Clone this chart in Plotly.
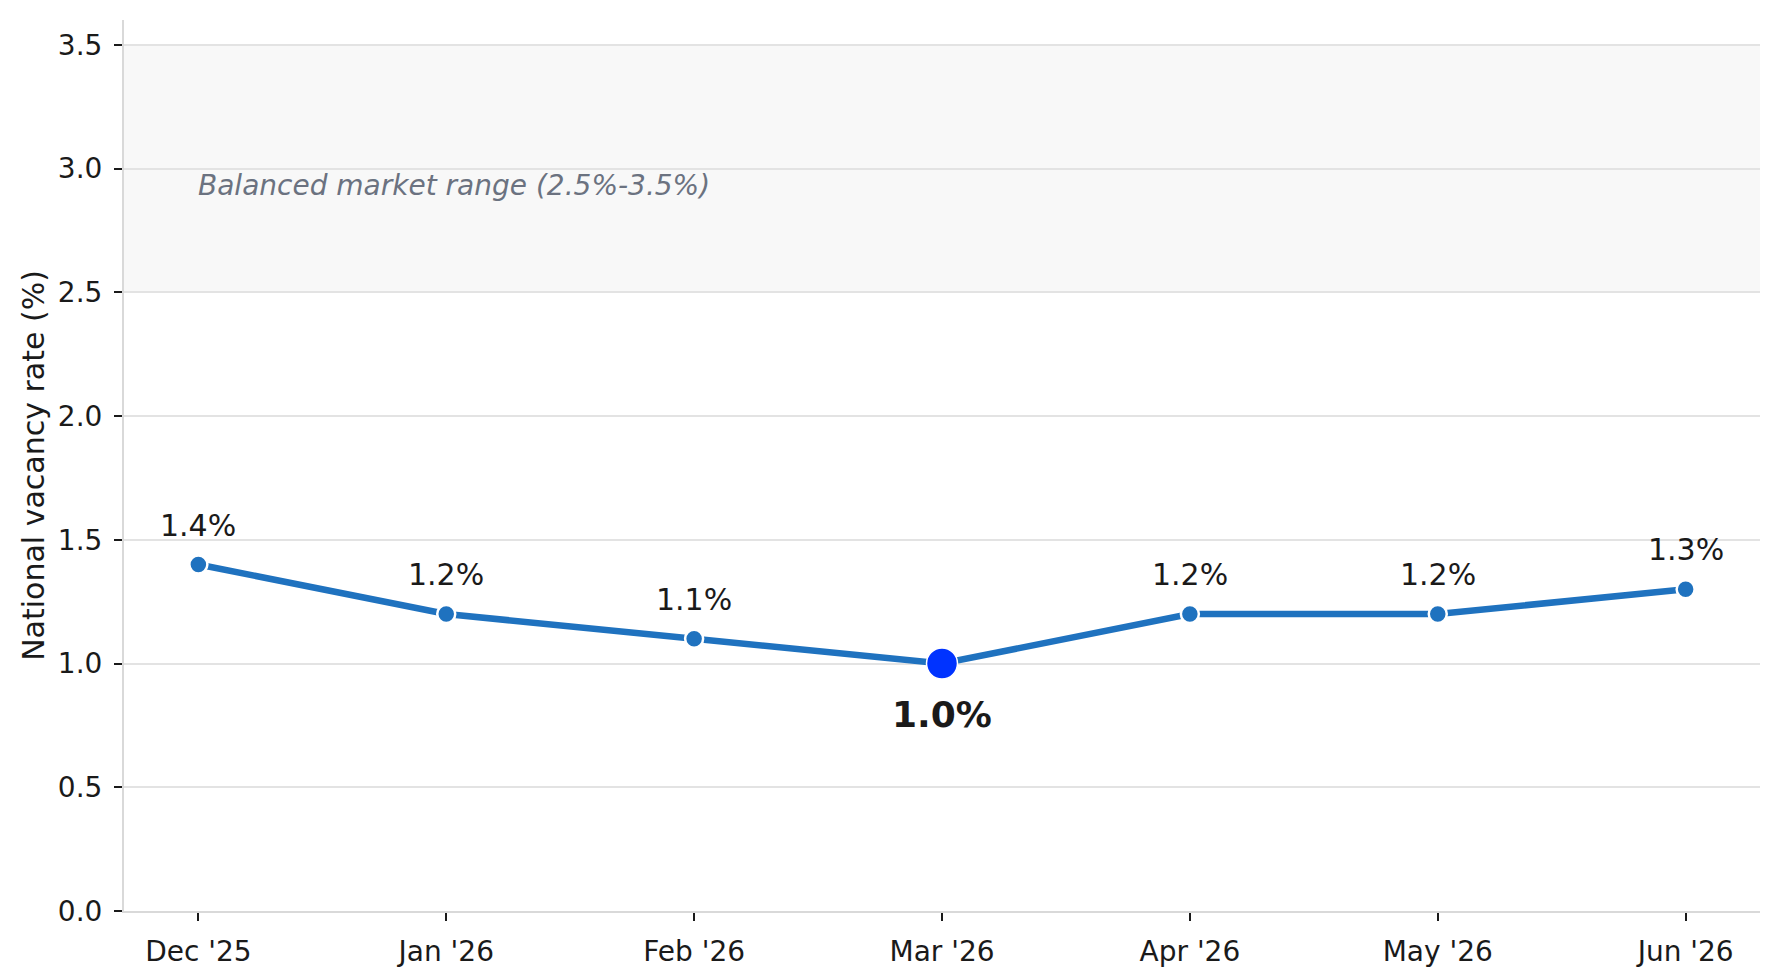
import plotly.graph_objects as go

months = ["Dec '25", "Jan '26", "Feb '26", "Mar '26", "Apr '26", "May '26", "Jun '26"]
vacancy = [1.4, 1.2, 1.1, 1.0, 1.2, 1.2, 1.3]
highlight_index = 3
band_low, band_high = 2.5, 3.5
band_label = "Balanced market range (2.5%-3.5%)"
y_ticks = [0.0, 0.5, 1.0, 1.5, 2.0, 2.5, 3.0, 3.5]

FONT = "DejaVu Sans"
LINE_COLOR = "#1f72bf"
HI_COLOR = "#0033ff"
TEXT = "#1a1a1a"

fig = go.Figure()

fig.add_shape(type="rect", xref="paper", x0=0, x1=1, yref="y", y0=band_low, y1=band_high,
              fillcolor="#f8f8f8", line=dict(width=0), layer="below")

fig.add_trace(go.Scatter(
    x=months, y=vacancy, mode="lines+markers",
    line=dict(color=LINE_COLOR, width=6.5),
    marker=dict(size=18, color=LINE_COLOR, line=dict(color="white", width=2.5)),
    hoverinfo="skip", showlegend=False))

fig.add_trace(go.Scatter(
    x=[months[highlight_index]], y=[vacancy[highlight_index]], mode="markers",
    marker=dict(size=31, color=HI_COLOR, line=dict(color="white", width=1.5)),
    hoverinfo="skip", showlegend=False))

for i, (m, v) in enumerate(zip(months, vacancy)):
    if i == highlight_index:
        fig.add_annotation(x=m, y=v, text=f"<b>{v:.1f}%</b>", showarrow=False,
                           yanchor="top", yshift=-28,
                           font=dict(family=FONT, size=36, color=TEXT))
    else:
        fig.add_annotation(x=m, y=v, text=f"{v:.1f}%", showarrow=False,
                           yanchor="bottom", yshift=20,
                           font=dict(family=FONT, size=30, color=TEXT))

fig.add_annotation(x=0, y=2.93, xref="x", yref="y", text=f"<i>{band_label}</i>",
                   showarrow=False, xanchor="left", yanchor="middle", xshift=-2,
                   font=dict(family=FONT, size=28, color="#6b7280"))

fig.update_layout(
    width=1779, height=980,
    margin=dict(l=124, r=19, t=20, b=66),
    paper_bgcolor="white", plot_bgcolor="white",
    font=dict(family=FONT, size=28, color=TEXT),
)
fig.update_xaxes(
    type="category", range=[-0.3, 6.3],
    showgrid=False, showline=True, linecolor="#d9d9d9", linewidth=2,
    ticks="outside", ticklen=8, tickwidth=1.5, tickcolor=TEXT,
    ticklabelstandoff=6,
    tickfont=dict(family=FONT, size=28, color=TEXT),
    zeroline=False,
)
fig.update_yaxes(
    range=[0, 3.6], tickvals=y_ticks, ticktext=[f"{t:.1f}" for t in y_ticks],
    showgrid=True, gridcolor="#e3e3e3", gridwidth=1.5,
    showline=True, linecolor="#d9d9d9", linewidth=2,
    ticks="outside", ticklen=8, tickwidth=1.5, tickcolor=TEXT,
    ticklabelstandoff=6,
    tickfont=dict(family=FONT, size=28, color=TEXT),
    zeroline=False,
    title=dict(text="National vacancy rate (%)", standoff=4,
               font=dict(family=FONT, size=30, color=TEXT)),
)

fig.write_html("out.html")
